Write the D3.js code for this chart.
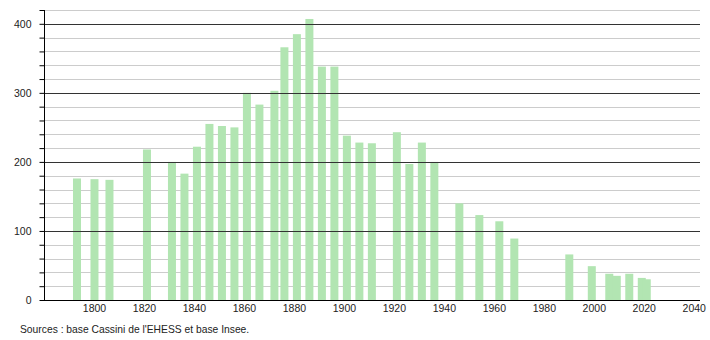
<!DOCTYPE html>
<html>
<head>
<meta charset="utf-8">
<script src="https://cdn.jsdelivr.net/npm/d3@7"></script>
<style>
  body { margin: 0; background: #fff; }
  svg { display: block; font-family: "Liberation Sans", Arial, sans-serif; }
</style>
</head>
<body>
<svg id="chart" width="710" height="340"></svg>
<script>
{
  const years = [1793, 1800, 1806, 1821, 1831, 1836, 1841, 1846, 1851, 1856,
                 1861, 1866, 1872, 1876, 1881, 1886, 1891, 1896, 1901, 1906,
                 1911, 1921, 1926, 1931, 1936, 1946, 1954, 1962, 1968, 1990,
                 1999, 2006, 2009, 2014, 2019, 2021];
  const population = [176, 175, 174, 218, 200, 183, 222, 255, 252, 250,
                      300, 283, 303, 366, 385, 407, 338, 338, 238, 228,
                      227, 243, 197, 228, 200, 140, 123, 114, 89, 66,
                      49, 38, 35, 38, 32, 30];
  const xTicks = [1800, 1820, 1840, 1860, 1880, 1900, 1920, 1940, 1960, 1980, 2000, 2020, 2040];
  const yMajor = [0, 100, 200, 300, 400];
  const yMinor = d3.range(0, 421, 20);
  const source = "Sources : base Cassini de l'EHESS et base Insee.";

  const GREEN = '#b2e5b2';
  const GREY = '#cccccc';
  const DARK = '#333';

  const svg = d3.select('#chart');
  const left = 44, right = 700, top = 10, bottom = 300;

  const x = d3.scaleLinear().domain([1780, 2042.5]).range([left, right]);
  const y = d3.scaleLinear().domain([0, 420]).range([bottom, top]);

  const data = years.map((yr, i) => ({year: yr, value: population[i]}));

  // minor grid
  svg.append('g')
    .selectAll('line')
    .data(yMinor.filter(v => !yMajor.includes(v)))
    .join('line')
      .attr('x1', left).attr('x2', right)
      .attr('y1', d => Math.round(y(d)) + 0.5)
      .attr('y2', d => Math.round(y(d)) + 0.5)
      .attr('stroke', GREY)
      .attr('stroke-width', 1);

  // bars
  const barW = 8;
  svg.append('g')
    .selectAll('rect')
    .data(data)
    .join('rect')
      .attr('x', d => x(d.year) - barW / 2 + 0.5)
      .attr('y', d => y(d.value))
      .attr('width', barW)
      .attr('height', d => y(0) - y(d.value))
      .attr('fill', GREEN);

  // major grid over bars
  svg.append('g')
    .selectAll('line')
    .data(yMajor.filter(v => v > 0))
    .join('line')
      .attr('x1', left).attr('x2', right)
      .attr('y1', d => Math.round(y(d)) + 0.5)
      .attr('y2', d => Math.round(y(d)) + 0.5)
      .attr('stroke', DARK)
      .attr('stroke-width', 1);

  // y axis
  const yAxis = d3.axisLeft(y)
    .tickValues(yMinor)
    .tickSize(5)
    .tickFormat(d => yMajor.includes(d) ? d : '');

  svg.append('g')
    .attr('transform', `translate(${left + 0.5},0)`)
    .call(yAxis)
    .call(g => g.select('.domain').attr('d', `M0,${top}V${bottom}`).attr('stroke', '#000'))
    .call(g => g.selectAll('.tick line').attr('stroke', '#000'))
    .call(g => g.selectAll('.tick text')
      .attr('x', -13)
      .attr('font-size', 10.5)
      .attr('font-family', '"Liberation Sans", Arial, sans-serif')
      .attr('fill', '#222'));

  // x axis
  const xAxis = d3.axisBottom(x)
    .tickValues(xTicks)
    .tickSize(0)
    .tickFormat(d3.format('d'));

  svg.append('g')
    .attr('transform', `translate(0,${bottom + 0.5})`)
    .call(xAxis)
    .call(g => g.select('.domain').attr('d', `M${left},0H${right}`).attr('stroke', '#000'))
    .call(g => g.selectAll('.tick text')
      .attr('y', 4)
      .attr('font-size', 10.5)
      .attr('font-family', '"Liberation Sans", Arial, sans-serif')
      .attr('fill', '#222'));

  svg.append('text')
    .attr('x', 20)
    .attr('y', 333)
    .attr('font-size', 10.3)
    .attr('fill', '#222')
    .text(source);
}
</script>
</body>
</html>
